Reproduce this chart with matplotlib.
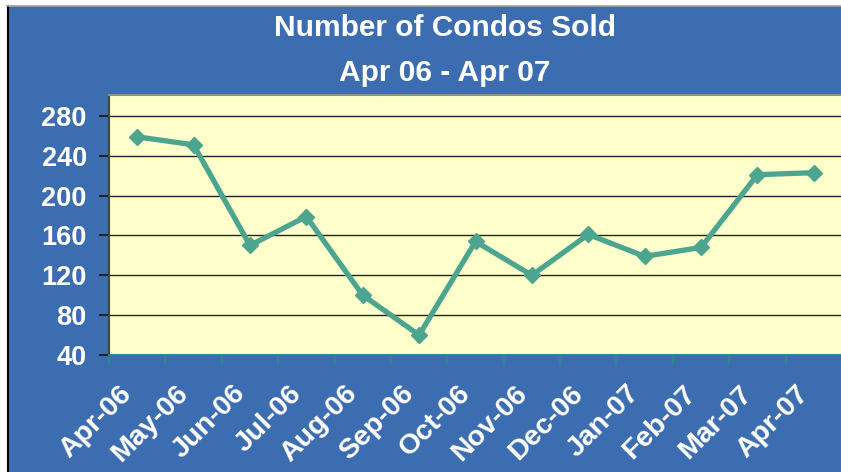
import matplotlib
matplotlib.use("Agg")
import matplotlib.pyplot as plt
import matplotlib.transforms as mtransforms
from matplotlib.patches import Rectangle
from matplotlib.lines import Line2D
import numpy as np

months = ["Apr-06", "May-06", "Jun-06", "Jul-06", "Aug-06", "Sep-06", "Oct-06",
          "Nov-06", "Dec-06", "Jan-07", "Feb-07", "Mar-07", "Apr-07"]
condos_sold = [259, 251, 150, 179, 100, 60, 154, 120, 161, 139, 148, 221, 223]
y_ticks = [40, 80, 120, 160, 200, 240, 280]
title_line1 = "Number of Condos Sold"
title_line2 = "Apr 06 - Apr 07"

W, H = 841, 472
BLUE = "#3C6DB1"
YELLOW = "#FFFFCC"
LINE = "#4BA58F"
TEAL = "#2A8A88"

plt.rcParams['font.family'] = ['Liberation Sans', 'DejaVu Sans']
plt.rcParams['font.weight'] = 'bold'

fig = plt.figure(figsize=(W / 100, H / 100), dpi=100)
fig.patch.set_facecolor("white")

# blue chart frame
fig.patches.append(Rectangle((7 / W, 0), 1, 1 - 6 / H, transform=fig.transFigure,
                             facecolor=BLUE, edgecolor="none", zorder=-10))
fig.lines.append(Line2D([7.5 / W, 7.5 / W], [0, 1 - 6 / H], transform=fig.transFigure,
                        color="black", lw=1.5, zorder=-9))
fig.lines.append(Line2D([7 / W, 1], [1 - 5.5 / H, 1 - 5.5 / H], transform=fig.transFigure,
                        color="#A0A0A0", lw=1.2, zorder=-9))

left, right, top, bottom = 109, 842, 95, 355
ax = fig.add_axes([left / W, 1 - bottom / H, (right - left) / W, (bottom - top) / H])
ax.set_zorder(5)
ax.set_facecolor(YELLOW)

x = np.arange(len(months))
ax.plot(x, condos_sold, color=LINE, lw=3.8, marker="D", markersize=8,
        markeredgecolor=LINE, markerfacecolor=LINE, zorder=3, solid_joinstyle="miter")

ax.set_xlim(-0.5, len(months) - 0.5)
ax.set_ylim(40, 301)
ax.set_yticks(y_ticks)
ax.set_yticklabels([str(v) for v in y_ticks], color="white", fontsize=19.5, fontweight="bold")
for v in y_ticks[1:]:
    ax.axhline(v, color="#222222", lw=1.0, zorder=1)

ax.set_xticks(x)
ax.set_xticklabels(months, rotation=45, ha="right", va="center", rotation_mode="anchor",
                   color="white", fontsize=20.5, fontweight="bold")
ax.tick_params(axis="x", which="major", length=0, pad=25)
shift = mtransforms.ScaledTranslation(-9 / 100, 0, fig.dpi_scale_trans)
for lab in ax.get_xticklabels():
    lab.set_transform(lab.get_transform() + shift)
ax.set_xticks(np.arange(-0.5, len(months), 1.0), minor=True)
ax.tick_params(axis="x", which="minor", length=7, color=TEAL, width=1.2, direction="out")
ax.tick_params(axis="y", which="major", length=7, color="#111111", width=1.2, pad=9)

ax.spines["left"].set_color("#444444")
ax.spines["left"].set_linewidth(1.5)
ax.spines["top"].set_color("#909090")
ax.spines["top"].set_linewidth(1.5)
ax.spines["right"].set_visible(False)
ax.spines["bottom"].set_color(TEAL)
ax.spines["bottom"].set_linewidth(1.5)

fig.text(445 / W, 1 - 28 / H, title_line1, ha="center", va="center",
         color="white", fontsize=21.5, fontweight="bold")
fig.text(445 / W, 1 - 73 / H, title_line2, ha="center", va="center",
         color="white", fontsize=21.5, fontweight="bold")

fig.savefig("out.png", dpi=100)
